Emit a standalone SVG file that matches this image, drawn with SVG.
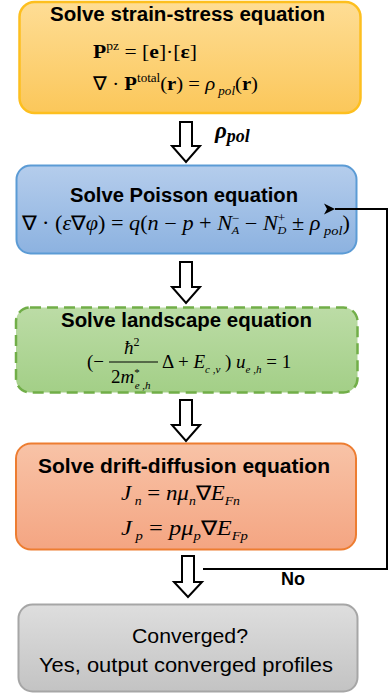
<svg xmlns="http://www.w3.org/2000/svg" width="390" height="696" viewBox="0 0 390 696">
<defs>
<linearGradient id="gY" x1="0" y1="0" x2="0" y2="1"><stop offset="0" stop-color="#fedd95"/><stop offset="1" stop-color="#fbc75a"/></linearGradient>
<linearGradient id="gB" x1="0" y1="0" x2="0" y2="1"><stop offset="0" stop-color="#b5cdec"/><stop offset="1" stop-color="#8cb2e0"/></linearGradient>
<linearGradient id="gG" x1="0" y1="0" x2="0" y2="1"><stop offset="0" stop-color="#bcdca6"/><stop offset="1" stop-color="#a3cf87"/></linearGradient>
<linearGradient id="gO" x1="0" y1="0" x2="0" y2="1"><stop offset="0" stop-color="#f8c3a7"/><stop offset="1" stop-color="#f4a582"/></linearGradient>
<linearGradient id="gK" x1="0" y1="0" x2="0" y2="1"><stop offset="0" stop-color="#dedede"/><stop offset="1" stop-color="#c3c3c3"/></linearGradient>
<marker id="ah" markerWidth="12" markerHeight="12" refX="1" refY="6" orient="auto" markerUnits="userSpaceOnUse">
<path d="M1,6 L12,0.5 L9,6 L12,11.5 Z" fill="#000"/>
</marker>
</defs>
<style>
.title{font-family:"Liberation Sans",Arial,sans-serif;font-weight:bold;font-size:20px;fill:#000;text-anchor:middle}
.plain{font-family:"Liberation Sans",Arial,sans-serif;font-size:21px;fill:#000;text-anchor:middle}
.m{font-family:"Liberation Serif","Times New Roman",serif;fill:#000}
.i{font-style:italic}
.b{font-weight:bold}
.arr{fill:#fff;stroke:#000;stroke-width:2;stroke-linejoin:miter}
.conn{fill:none;stroke:#000;stroke-width:2}
</style>

<g id="node-strain">
<rect x="19.5" y="2" width="341" height="111" rx="15" fill="url(#gY)" stroke="#fdbf1f" stroke-width="2.5"/>
<text class="title" x="187.5" y="21" textLength="275" lengthAdjust="spacingAndGlyphs">Solve strain-stress equation</text>
<text class="m" x="93" y="58" font-size="19" textLength="104" lengthAdjust="spacingAndGlyphs"><tspan class="b">P</tspan><tspan font-size="12" dy="-8">pz</tspan><tspan dy="8"> = [</tspan><tspan class="b">e</tspan><tspan>]·[</tspan><tspan class="b">ε</tspan><tspan>]</tspan></text>
<text class="m" x="93" y="90" font-size="19" textLength="165" lengthAdjust="spacingAndGlyphs"><tspan>∇ · </tspan><tspan class="b">P</tspan><tspan font-size="12" dy="-8">total</tspan><tspan dy="8">(</tspan><tspan class="b">r</tspan><tspan>) = </tspan><tspan class="i">ρ</tspan><tspan class="i" font-size="12" dy="5"> pol</tspan><tspan dy="-5">(</tspan><tspan class="b">r</tspan><tspan>)</tspan></text>
</g>

<g id="node-poisson">
<rect x="16.5" y="165.5" width="340" height="88" rx="14" fill="url(#gB)" stroke="#5b9bd5" stroke-width="2"/>
<text class="title" x="184" y="202" textLength="228" lengthAdjust="spacingAndGlyphs">Solve Poisson equation</text>
<text class="m" x="22" y="230" font-size="20" textLength="328" lengthAdjust="spacingAndGlyphs"><tspan>∇ · (</tspan><tspan class="i">ε</tspan><tspan>∇</tspan><tspan class="i">φ</tspan><tspan>) = </tspan><tspan class="i">q</tspan><tspan>(</tspan><tspan class="i">n</tspan><tspan> − </tspan><tspan class="i">p</tspan><tspan> + </tspan><tspan class="i">N</tspan><tspan font-size="12" dy="-8">−</tspan><tspan class="i" font-size="11" dx="-7" dy="12">A</tspan><tspan dy="-4"> − </tspan><tspan class="i">N</tspan><tspan font-size="12" dy="-8">+</tspan><tspan class="i" font-size="11" dx="-7" dy="12">D</tspan><tspan dy="-4"> ± </tspan><tspan class="i">ρ</tspan><tspan class="i" font-size="13" dy="5"> pol</tspan><tspan dy="-5">)</tspan></text>
</g>

<g id="node-landscape">
<rect x="16" y="307.5" width="341.5" height="85" rx="14" fill="url(#gG)" stroke="#71ae48" stroke-width="2.5" stroke-dasharray="11 6"/>
<text class="title" x="186.5" y="327" textLength="251" lengthAdjust="spacingAndGlyphs">Solve landscape equation</text>
<text class="m" x="87" y="368" font-size="19">(−</text>
<text class="m" x="124" y="354" font-size="19"><tspan class="i">ħ</tspan><tspan font-size="12" dy="-8">2</tspan></text>
<line x1="109" y1="362" x2="158" y2="362" stroke="#000" stroke-width="1"/>
<text class="m" x="111" y="383" font-size="19"><tspan>2</tspan><tspan class="i">m</tspan><tspan font-size="11" dy="-7">*</tspan><tspan class="i" font-size="11" dx="-5" dy="13">e ,h</tspan></text>
<text class="m" x="162" y="368" font-size="19"><tspan>Δ + </tspan><tspan class="i">E</tspan><tspan class="i" font-size="11" dy="5">c ,v</tspan><tspan dy="-5"> ) </tspan><tspan class="i">u</tspan><tspan class="i" font-size="11" dy="5">e ,h</tspan><tspan dy="-5"> = 1</tspan></text>
</g>

<g id="node-drift">
<rect x="16" y="443.5" width="340" height="106" rx="15" fill="url(#gO)" stroke="#ed7d31" stroke-width="2"/>
<text class="title" x="184" y="473" textLength="292" lengthAdjust="spacingAndGlyphs">Solve drift-diffusion equation</text>
<text class="m" x="121" y="500" font-size="20" textLength="119" lengthAdjust="spacingAndGlyphs"><tspan class="i">J</tspan><tspan class="i" font-size="12" dy="5"> n</tspan><tspan dy="-5"> = </tspan><tspan class="i">nμ</tspan><tspan class="i" font-size="12" dy="5">n</tspan><tspan dy="-5">∇</tspan><tspan class="i">E</tspan><tspan class="i" font-size="12" dy="5">Fn</tspan></text>
<text class="m" x="121" y="535" font-size="20" textLength="127" lengthAdjust="spacingAndGlyphs"><tspan class="i">J</tspan><tspan class="i" font-size="12" dy="5"> p</tspan><tspan dy="-5"> = </tspan><tspan class="i">pμ</tspan><tspan class="i" font-size="12" dy="5">p</tspan><tspan dy="-5">∇</tspan><tspan class="i">E</tspan><tspan class="i" font-size="12" dy="5">Fp</tspan></text>
</g>

<g id="node-converged">
<rect x="18.5" y="604.5" width="339" height="87" rx="14" fill="url(#gK)" stroke="#a6a6a6" stroke-width="2"/>
<text class="plain" x="190" y="643" textLength="116" lengthAdjust="spacingAndGlyphs">Converged?</text>
<text class="plain" x="186" y="672" textLength="294" lengthAdjust="spacingAndGlyphs">Yes, output converged profiles</text>
</g>

<g id="connectors">
<path class="arr" d="M180,122 H192 V146 H200 L186,162 L172,146 H180 Z"/>
<path class="arr" d="M180,262 H192 V287 H200 L186,303 L172,287 H180 Z"/>
<path class="arr" d="M180,400 H192 V425 H200 L186,441 L172,425 H180 Z"/>
<path class="arr" d="M182,556 H194 V582 H202 L188,597 L174,582 H182 Z"/>
<polyline class="conn" points="203,569 387,569 387,209 335,209" marker-end="url(#ah)"/>
<text x="215" y="138" font-family="'Liberation Serif','Times New Roman',serif" font-weight="bold" font-style="italic" font-size="23">ρ<tspan font-size="18" dy="4">pol</tspan></text>
<text x="281" y="585" font-family="'Liberation Sans',Arial,sans-serif" font-weight="bold" font-size="18">No</text>
</g>
</svg>
